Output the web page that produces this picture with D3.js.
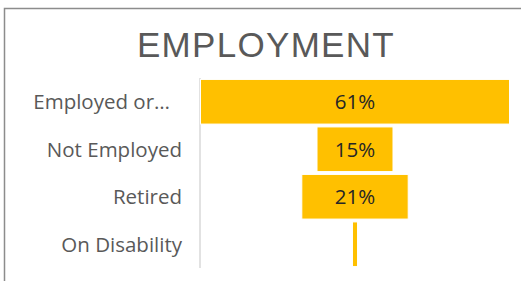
<!DOCTYPE html>
<html>
<head>
<meta charset="utf-8">
<script src="https://cdn.jsdelivr.net/npm/d3@7"></script>
<style>
  html, body { margin: 0; padding: 0; background: #fff; }
  svg { display: block; }
</style>
</head>
<body>
<svg id="chart" width="521" height="281"></svg>
<script>
// data
let categories = ["Employed or…", "Not Employed", "Retired", "On Disability"];
let values = [61, 15, 21, 1];
let title = "EMPLOYMENT";

let svg = d3.select("#chart");
let width = +svg.attr("width");
let height = +svg.attr("height");

let plot = { left: 200, right: 510, top: 78, bottom: 268 };
let center = (plot.left + plot.right) / 2;
let labelFont = "Open Sans, sans-serif";

// outer frame, runs off the right and bottom edges
svg.append("rect")
    .attr("x", 4.5)
    .attr("y", 8.5)
    .attr("width", width + 40)
    .attr("height", height + 40)
    .attr("fill", "#fff")
    .attr("stroke", "#8c8c8c")
    .attr("stroke-width", 1.5);

// title
svg.append("text")
    .attr("x", 266)
    .attr("y", 57)
    .attr("text-anchor", "middle")
    .style("font-family", "Liberation Sans, Arial, sans-serif")
    .style("font-size", "35px")
    .style("letter-spacing", "1.3px")
    .style("fill", "#595959")
    .text(title);

// scales
let yScale = d3.scaleBand()
    .domain(categories)
    .range([plot.top, plot.bottom])
    .paddingInner(0.06)
    .paddingOuter(0.03);

let wScale = d3.scaleLinear()
    .domain([0, d3.max(values)])
    .range([0, plot.right - plot.left - 1]);

// category axis line
svg.append("line")
    .attr("x1", plot.left)
    .attr("x2", plot.left)
    .attr("y1", plot.top)
    .attr("y2", plot.bottom)
    .attr("stroke", "#d9d9d9")
    .attr("stroke-width", 1.5);

// bars, centred like a funnel
let rows = categories.map((c, i) => ({ cat: c, val: values[i] }));

svg.selectAll(".bar")
    .data(rows)
    .enter().append("rect")
    .attr("class", "bar")
    .attr("x", d => center - wScale(d.val) / 2)
    .attr("y", d => yScale(d.cat))
    .attr("width", d => wScale(d.val))
    .attr("height", yScale.bandwidth())
    .attr("fill", "#ffc000")
    .attr("stroke", "#fff")
    .attr("stroke-width", 1);

// value labels (too small a bar gets none)
svg.selectAll(".val")
    .data(rows.filter(d => d.val >= 5))
    .enter().append("text")
    .attr("class", "val")
    .attr("x", center)
    .attr("y", d => yScale(d.cat) + yScale.bandwidth() / 2)
    .attr("dy", "0.36em")
    .attr("text-anchor", "middle")
    .style("font-family", labelFont)
    .style("font-size", "20.5px")
    .style("fill", "#262626")
    .text(d => d.val + "%");

// category labels; a truncated label keeps the gap Excel leaves after it
svg.selectAll(".cat")
    .data(categories)
    .enter().append("text")
    .attr("class", "cat")
    .attr("x", d => d.endsWith("…") ? 170 : 182)
    .attr("y", d => yScale(d) + yScale.bandwidth() / 2)
    .attr("dy", "0.36em")
    .attr("text-anchor", "end")
    .style("font-family", labelFont)
    .style("font-size", "20.5px")
    .style("fill", "#595959")
    .text(d => d);
</script>
</body>
</html>
